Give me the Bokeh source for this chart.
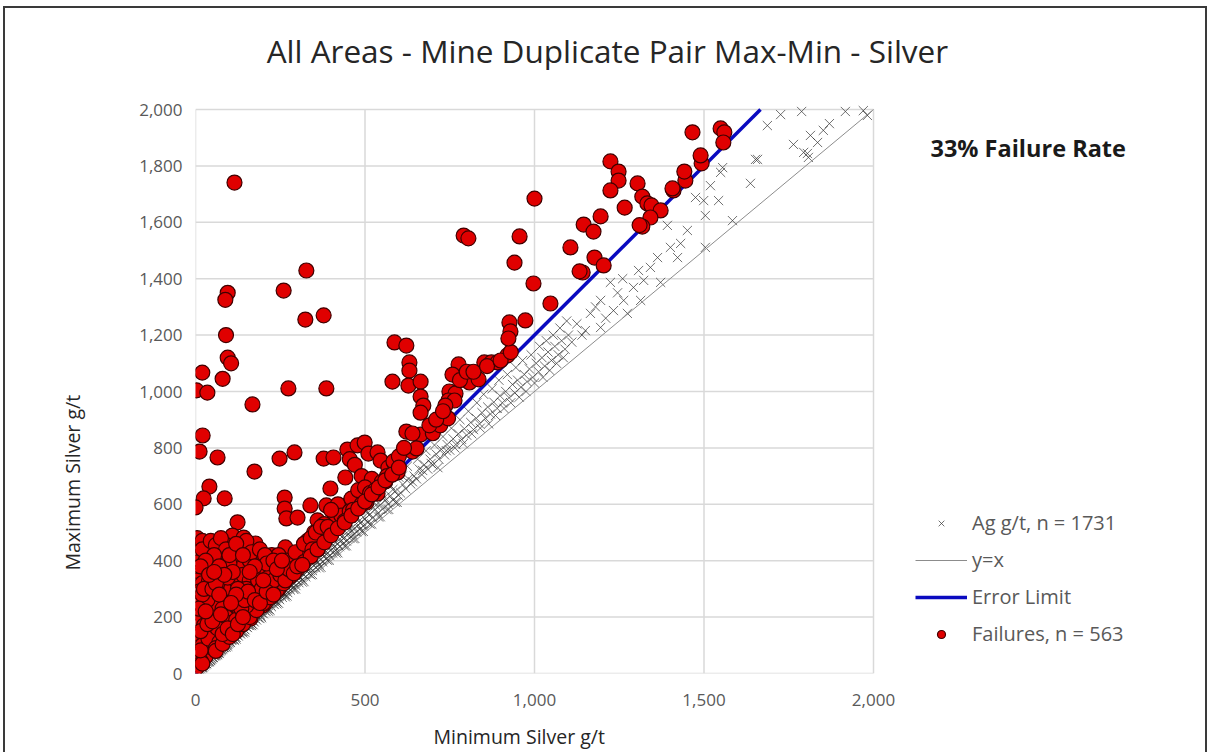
from bokeh.plotting import figure
from bokeh.models import Label, Legend, LegendItem, NumeralTickFormatter, FixedTicker, Range1d, Title
from bokeh.embed import file_html
from bokeh.resources import INLINE

title_text = "All Areas - Mine Duplicate Pair Max-Min - Silver"
x_label = "Minimum Silver g/t"
y_label = "Maximum Silver g/t"
note_text = "33% Failure Rate"
legend_labels = ["Ag g/t, n = 1731", "y=x", "Error Limit", "Failures, n = 563"]
x_ticks = [0, 500, 1000, 1500, 2000]
y_ticks = [0, 200, 400, 600, 800, 1000, 1200, 1400, 1600, 1800, 2000]
error_factor = 1.2          # error limit: max = 1.2 * min
axis_max = 2000

# Duplicate pairs (min, max) (grey x markers)
dup_pairs = [
    (3,3),(5,6),(8,9),(10,11),(12,14),(15,16),(18,20),(20,23),(22,24),(25,27),(28,31),(30,34),(33,35),(35,40),
    (38,41),(40,44),(43,47),(45,50),(48,52),(50,56),(53,57),(55,62),(58,63),(60,66),(63,68),(65,72),(68,74),
    (70,77),(73,80),(75,83),(78,85),(80,88),(83,92),(85,93),(88,97),(90,100),(93,103),(95,105),(98,108),(100,112),
    (103,110),(106,118),(110,121),(113,122),(116,130),(120,128),(123,137),(126,133),(130,144),(133,140),(136,150),
    (140,149),(143,158),(146,155),(150,166),(153,163),(156,171),(160,170),(163,180),(166,176),(170,187),(173,183),
    (176,195),(180,190),(183,201),(186,197),(190,210),(193,204),(196,215),(200,212),(204,224),(208,220),(212,232),
    (216,228),(220,243),(224,237),(228,250),(232,245),(236,259),(240,254),(244,268),(248,262),(252,277),(256,270),
    (260,284),(264,279),(268,294),(272,287),(276,302),(280,296),(284,312),(288,304),(292,320),(296,312),
    (300,330),(305,322),(310,340),(315,333),(320,350),(325,343),(330,362),(335,354),(340,373),(345,365),(350,383),
    (355,375),(360,395),(365,386),(370,405),(375,396),(380,416),(385,406),(390,428),(395,418),(400,438),(405,427),
    (410,450),(415,438),(420,460),(425,450),(430,472),(435,460),(440,482),(445,470),(450,494),(455,480),(460,505),
    (465,492),(470,515),(475,502),(480,526),(485,512),(490,538),(495,523),(500,548),(508,535),(515,565),(522,552),
    (530,582),(538,568),(545,598),(552,583),(560,614),(568,600),(575,630),(583,615),(590,647),(598,632),
    (20,21),(45,46),(70,71),(95,97),(120,122),(145,147),(170,173),(195,198),(220,224),(245,249),(270,275),(295,300),
    (320,326),(345,351),(370,377),(395,402),(420,428),(445,453),(470,479),(495,504),(520,530),(545,556),(570,582),
    (595,607),(32,36),(57,64),(82,92),(107,120),(132,148),(157,176),(182,204),(207,232),(232,260),(257,288),
    (282,316),(307,344),(332,372),(357,400),(382,428),(407,456),(432,484),(457,512),(482,540),(507,568),(532,596),
    (557,624),(582,652),
    (50,58),(75,87),(100,116),(125,145),(150,174),(175,203),(200,232),(225,261),(250,290),(275,319),(300,348),
    (325,377),(350,406),(375,435),(400,464),(425,493),(450,522),(475,551),(500,580),(525,609),(550,638),(575,667),
    (600,696),(40,42),(65,67),(90,93),(115,118),(140,144),(165,170),(190,195),(215,221),(240,247),(265,272),
    (290,298),(315,324),(340,350),(365,375),(390,401),(415,427),(440,452),(465,478),(490,504),(515,530),(540,555),
    (565,581),(590,607),
    (605,640),(612,670),(620,655),(628,690),(635,672),(645,700),(652,690),(660,725),(668,705),(675,740),(685,725),
    (692,760),(700,740),(710,778),(718,760),(725,795),(735,775),(742,812),(750,792),(760,832),(768,812),(775,850),
    (785,830),(793,868),(800,845),(812,890),(820,865),(828,905),(838,885),(845,925),(855,905),(862,945),(870,920),
    (880,962),(890,940),(898,985),(905,960),(915,1000),(925,978),(935,1025),(942,995),(950,1040),(960,1015),
    (970,1060),(978,1035),(985,1080),(995,1050),(1005,1100),(1012,1070),(1022,1120),(1030,1090),(1040,1140),
    (1050,1110),(1060,1160),(1070,1130),(1080,1180),(1090,1150),(1100,1200),
    (610,700),(625,735),(640,680),(655,760),(670,720),(680,790),(695,745),(705,810),(715,730),(730,840),(740,790),
    (755,870),(765,800),(780,900),(790,815),(805,930),(815,850),(830,960),(840,870),(850,990),(865,885),(875,1010),
    (885,915),(895,1040),(910,940),(920,1060),(930,960),(945,1085),(955,980),(965,1110),(975,1000),(990,1130),
    (1000,1030),(1015,1160),(1025,1050),(1035,1180),(1045,1075),(1055,1200),(1065,1100),(1075,1225),(1085,1120),
    (1095,1250),
    (1110,1175),(1125,1240),(1140,1200),(1150,1216),(1165,1277),(1180,1300),(1195,1227),(1195,1323),(1210,1260),
    (1224,1387),(1233,1287),(1245,1350),(1260,1400),(1263,1323),(1274,1277),(1292,1369),(1307,1429),(1313,1323),
    (1322,1394),(1342,1440),(1363,1475),(1372,1387),(1392,1589),(1401,1511),(1422,1475),(1431,1525),(1451,1571),
    (1475,1688),(1499,1677),(1504,1511),(1504,1624),(1519,1730),(1543,1677),(1549,1777),(1555,1794),(1584,1606),
    (1637,1738),(1652,1823),(1658,1823),(1687,1943),(1726,1982),(1764,1876),(1788,1993),(1794,1848),(1805,1844),
    (1808,1830),(1814,1908),(1835,1883),(1852,1926),(1870,1950),(1917,1993),(1970,1996),(1982,1979),
]

# Failures (min, max) (red circles)
fail_pairs = [
    (115,1741),(95,1350),(88,1325),(90,1200),(95,1120),(105,1100),(80,1045),(3,1004),(35,996),(20,1067),
    (260,1358),(327,1429),(324,1255),(378,1270),(274,1011),(386,1011),(168,954),
    (587,1174),(622,1163),(631,1103),(631,1074),(581,1035),(628,1021),(664,1035),(664,982),(672,950),(664,925),
    (21,844),(12,787),(65,766),(248,762),(292,784),(378,762),(174,716),(41,663),(24,621),(0,589),(86,621),
    (263,624),(263,585),(268,550),(301,553),(398,656),(442,695),(407,766),
    (448,794),(478,809),(499,819),(510,780),(537,784),(546,755),(569,730),(587,745),(596,713),(560,681),(537,638),
    (504,606),(478,603),(445,596),(422,564),(386,596),(339,596),(407,536),(360,543),(383,482),
    (455,760),(470,740),(490,700),(520,690),(420,600),(460,620),(480,650),(500,660),(430,560),(455,575),(515,640),
    (530,650),(550,680),(565,700),(400,580),(440,540),(465,580),(490,600),(380,530),(350,500),(330,470),(310,430),
    (776,1096),(758,1060),(808,1032),(835,1043),(852,1103),(873,1103),(891,1103),(920,1128),(749,1000),(767,993),
    (746,968),(764,968),(737,950),(664,847),(700,852),(722,880),(745,905),(622,858),(640,851),(640,787),(652,798),
    (584,752),(600,770),(615,800),(690,880),(710,900),(730,930),(780,1040),(800,1070),(820,1070),(860,1090),
    (900,1110),(930,1140),
    (1466,1919),(1549,1933),(1560,1919),(1557,1883),(1493,1809),(1224,1816),(1248,1780),(1248,1748),(1224,1713),
    (1304,1738),(1318,1691),(1266,1652),(1333,1667),(1345,1660),(1372,1642),(1342,1617),(1318,1585),(1310,1590),
    (1410,1713),(1445,1748),(1490,1837),(1442,1780),(1407,1720),(1195,1621),(1145,1592),(1174,1567),(1177,1475),
    (1204,1447),(1142,1422),(1106,1511),(1133,1426),
    (1000,1684),(956,1550),(941,1457),(997,1383),(1047,1312),(973,1252),(926,1245),(929,1213),(923,1188),
    (791,1553),(805,1543),
    (5,480),(10,455),(20,470),(35,440),(15,420),(40,410),(8,395),(25,380),(50,395),(12,360),(30,350),(45,365),
    (5,330),(20,320),(40,300),(55,330),(10,290),(30,280),(50,270),(5,250),(25,240),(45,230),(15,210),(35,200),
    (55,210),(5,180),(25,170),(45,160),(10,140),(30,130),(50,140),(5,110),(20,100),(40,90),(10,70),(30,60),
    (15,45),(8,30),(3,20),(20,35),
    (124,536),(109,489),(142,482),(177,461),(192,401),(147,447),(133,376),(171,358),(97,355),(88,319),(139,312),
    (206,323),(236,383),(265,447),(265,383),(230,294),(260,337),(286,355),(316,394),(339,425),(348,461),(363,482),
    (383,479),(168,259),(118,259),(80,259),(109,223),(156,223),(198,241),(97,188),(127,163),(162,195),(29,152),
    (94,128),(53,89),(15,82),(38,124),
    (65,220),(75,180),(85,150),(70,110),(60,90),(100,160),(110,200),(120,240),(130,210),(140,180),(150,200),
    (160,250),(170,220),(180,240),(190,270),(200,290),(210,270),(220,300),(240,320),(250,310),(270,340),(280,360),
    (290,380),(300,400),(310,410),(320,420),(330,430),(75,300),(90,280),(105,300),(120,330),(140,350),(160,330),
    (180,310),(200,360),(215,340),(225,420),(245,420),(180,420),(160,400),(115,420),(70,430),(85,460),(60,390),
    (65,350),(100,390),(150,300),(175,280),(185,235),(205,250),(225,275),(245,300),(255,360),(270,400),(295,430),
    (320,460),(340,480),(355,500),(370,520),(390,520),(360,440),(345,440),
    (60,80),(80,105),(100,130),(120,150),(140,175),(160,200),(180,225),(200,250),(220,270),(240,295),(260,320),
    (280,345),(300,370),(320,395),(340,415),(360,440),(380,465),(400,490),(420,515),(440,535),(460,560),(480,585),
    (500,610),(520,635),(540,660),(560,685),(580,705),(600,730),
    (20,440),(45,470),(60,455),(75,480),(90,440),(55,420),(30,400),(70,380),(95,340),(110,360),(125,300),(135,270),
    (150,240),(165,280),(185,330),(195,300),(215,310),(230,330),(250,350),(265,330),(275,370),(290,355),(300,380),
    (315,385),(130,440),(150,470),(165,430),(190,440),(205,420),(210,390),(230,400),(240,370),(255,400),(60,250),
    (80,230),(90,200),(105,180),(120,190),(135,230),(145,260),(155,290),(175,260),(190,250),(210,290),(230,280),
    (35,260),(20,280),(40,330),(25,300),(50,300),(60,320),(70,280),(85,350),(65,160),(80,140),(95,160),(110,140),
    (125,175),(140,200),(15,150),(35,175),(50,185),(10,230),(30,220),(15,380),(40,350),(55,360),(100,420),
    (120,460),(140,420),(175,380),(160,360),(200,330),(120,280),(105,250),(75,210),
]

dup_min = [a for a, b in dup_pairs]
dup_max = [b for a, b in dup_pairs]
fail_min = [a for a, b in fail_pairs]
fail_max = [b for a, b in fail_pairs]

FONT = "Open Sans"
GREY_TXT = "#595959"

# frame extends right/up beyond the 0-2000 plot area so that annotations are visible
FW, FH = 1010, 665
x_end = axis_max * FW / 678.0
y_end = axis_max * FH / 564.0

p = figure(width=1200, height=744, output_backend="svg", toolbar_location=None,
           x_range=Range1d(0, x_end), y_range=Range1d(0, y_end),
           min_border_left=190, min_border_right=0, min_border_top=0, min_border_bottom=79)
p.frame_width = FW
p.frame_height = FH
p.background_fill_color = "white"
p.border_fill_color = "white"
p.outline_line_color = None
p.grid.visible = False
p.styles = {"border": "2px solid #3a3a3a", "margin-left": "3px", "margin-top": "6px"}

for ax in (p.xaxis, p.yaxis):
    ax.axis_line_color = None
    ax.major_tick_line_color = None
    ax.minor_tick_line_color = None
    ax.major_label_text_font = FONT
    ax.major_label_text_font_size = "17px"
    ax.major_label_text_color = GREY_TXT
    ax.formatter = NumeralTickFormatter(format="0,0")
    ax.bounds = (0, axis_max)

p.xaxis.ticker = FixedTicker(ticks=x_ticks)
p.yaxis.ticker = FixedTicker(ticks=y_ticks)
p.xaxis.major_label_standoff = 14
p.yaxis.major_label_standoff = 7

# grid lines limited to the 0-2000 plot area
p.segment(x0=x_ticks, y0=[0] * len(x_ticks), x1=x_ticks, y1=[axis_max] * len(x_ticks),
          line_color="#d9d9d9", line_width=1.5, level="underlay")
p.segment(x0=[0] * len(y_ticks), y0=y_ticks, x1=[axis_max] * len(y_ticks), y1=y_ticks,
          line_color="#d9d9d9", line_width=1.5, level="underlay")

p.add_layout(Title(text=x_label, align="left", offset=238, text_font=FONT, text_font_size="19.5px",
                   text_font_style="normal", text_color="#262626", standoff=24), "below")
p.add_layout(Title(text=y_label, align="left", offset=103, text_font=FONT, text_font_size="19.5px",
                   text_font_style="normal", text_color="#262626", standoff=102), "left")

r_dup = p.scatter(dup_min, dup_max, marker="x", size=13, line_color="#333333", line_alpha=0.7, line_width=1)
r_yx = p.line([0, axis_max], [0, axis_max], line_color="#8c8c8c", line_width=1)
r_err = p.line([0, axis_max / error_factor], [0, axis_max], line_color="#0a0ac0", line_width=3.5)
r_fail = p.scatter(fail_min, fail_max, marker="circle", size=15, fill_color="#e00000",
                   line_color="#400000", line_width=1.2)

legend = Legend(items=[
    LegendItem(label=legend_labels[0], renderers=[r_dup]),
    LegendItem(label=legend_labels[1], renderers=[r_yx]),
    LegendItem(label=legend_labels[2], renderers=[r_err]),
    LegendItem(label=legend_labels[3], renderers=[r_fail]),
], location=(720, 26))
legend.background_fill_alpha = 0
legend.border_line_color = None
legend.padding = 0
legend.margin = 0
legend.spacing = 10
legend.glyph_width = 52
legend.glyph_height = 20
legend.label_standoff = 5
legend.label_text_font = FONT
legend.label_text_font_size = "20px"
legend.label_text_color = GREY_TXT
p.add_layout(legend, "center")

p.add_layout(Label(x=1215, y=2209, text=title_text, text_font=FONT, text_font_size="31.5px",
                   text_color="#262626", text_align="center", text_baseline="middle"))
p.add_layout(Label(x=2168, y=1862, text=note_text, text_font=FONT, text_font_size="23.5px",
                   text_font_style="bold", text_color="#1a1a1a", text_align="left", text_baseline="middle"))

open("out.html", "w").write(file_html(p, INLINE))
